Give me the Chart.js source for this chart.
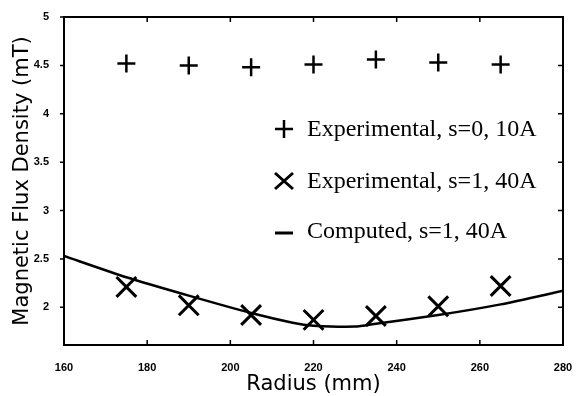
<!DOCTYPE html>
<html>
<head>
<meta charset="utf-8">
<script src="https://cdn.jsdelivr.net/npm/chart.js@4.4.0/dist/chart.umd.min.js"></script>
<style>
  html, body { margin: 0; padding: 0; background: #fff; }
  #wrap { width: 583px; height: 396px; }
</style>
</head>
<body>
<div id="wrap"><canvas id="myChart" width="583" height="396"></canvas></div>
<script>
// measured points (radius in mm, flux in mT)
const radiusExp = [175, 190, 205, 220, 235, 250, 265];
const fluxS0 = [4.52, 4.50, 4.48, 4.51, 4.56, 4.53, 4.51];
const fluxS1 = [2.21, 2.02, 1.92, 1.87, 1.91, 2.01, 2.22];

// computed curve
const radiusCalc = [160, 175, 190, 205, 215, 220, 230, 235, 250, 265, 280];
const fluxCalc = [2.53, 2.31, 2.12, 1.94, 1.84, 1.81, 1.80, 1.83, 1.92, 2.03, 2.17];

const xTicks = [160, 180, 200, 220, 240, 260, 280];
const yTicks = [2, 2.5, 3, 3.5, 4, 4.5, 5];

const legendLabels = ['Experimental, s=0, 10A', 'Experimental, s=1, 40A', 'Computed, s=1, 40A'];

const toPoints = (xs, ys) => xs.map((x, i) => ({ x: x, y: ys[i] }));

// frame with inward ticks + legend inside the plot
const boxAndLegend = {
    id: 'boxAndLegend',
    afterDraw(chart) {
        const ctx = chart.ctx;
        const a = chart.chartArea;
        const xs = chart.scales.x, ys = chart.scales.y;
        ctx.save();
        ctx.strokeStyle = '#000';
        ctx.lineWidth = 2;
        ctx.strokeRect(a.left, a.top, a.right - a.left, a.bottom - a.top);

        ctx.lineWidth = 1.5;
        ctx.beginPath();
        xTicks.forEach(v => {
            const px = xs.getPixelForValue(v);
            ctx.moveTo(px, a.bottom); ctx.lineTo(px, a.bottom - 5);
            ctx.moveTo(px, a.top); ctx.lineTo(px, a.top + 5);
        });
        yTicks.forEach(v => {
            const py = ys.getPixelForValue(v);
            ctx.moveTo(a.left, py); ctx.lineTo(a.left - 4, py);
            ctx.moveTo(a.right, py); ctx.lineTo(a.right - 5, py);
        });
        ctx.stroke();

        const lx = 284, tx = 307, rows = [129, 181, 231];
        // plus
        ctx.lineWidth = 2.5;
        ctx.beginPath();
        ctx.moveTo(lx - 9, rows[0]); ctx.lineTo(lx + 9, rows[0]);
        ctx.moveTo(lx, rows[0] - 9); ctx.lineTo(lx, rows[0] + 9);
        ctx.stroke();
        // cross
        ctx.lineWidth = 3;
        ctx.beginPath();
        ctx.moveTo(lx - 9, rows[1] - 8); ctx.lineTo(lx + 9, rows[1] + 8);
        ctx.moveTo(lx + 9, rows[1] - 8); ctx.lineTo(lx - 9, rows[1] + 8);
        ctx.stroke();
        // dash
        ctx.beginPath();
        ctx.moveTo(lx - 9, rows[2] + 2); ctx.lineTo(lx + 9, rows[2] + 2);
        ctx.stroke();

        ctx.fillStyle = '#000';
        ctx.font = '24px "Liberation Serif", "Times New Roman", serif';
        ctx.textBaseline = 'middle';
        ctx.textAlign = 'left';
        legendLabels.forEach((t, i) => ctx.fillText(t, tx, rows[i] + 1));
        ctx.restore();
    }
};

const tickFont = { family: '"Liberation Sans", Arial, sans-serif', size: 11, weight: 'bold' };
const titleFont = { family: '"DejaVu Sans", sans-serif', size: 21, lineHeight: 1.2 };

new Chart(document.getElementById('myChart'), {
    type: 'scatter',
    data: {
        datasets: [
            {
                label: legendLabels[0],
                data: toPoints(radiusExp, fluxS0),
                pointStyle: 'cross',
                pointRadius: 9,
                pointBorderWidth: 2.5,
                borderColor: '#000',
                backgroundColor: '#000',
                showLine: false
            },
            {
                label: legendLabels[1],
                data: toPoints(radiusExp, fluxS1),
                pointStyle: 'crossRot',
                pointRadius: 14,
                pointBorderWidth: 3,
                borderColor: '#000',
                backgroundColor: '#000',
                showLine: false
            },
            {
                label: legendLabels[2],
                data: toPoints(radiusCalc, fluxCalc),
                showLine: true,
                pointRadius: 0,
                borderColor: '#000',
                borderWidth: 2.5,
                tension: 0.2
            }
        ]
    },
    options: {
        responsive: false,
        animation: false,
        layout: { padding: { left: 0, right: 20, top: 16, bottom: 0 } },
        scales: {
            x: {
                type: 'linear',
                min: 160,
                max: 280,
                afterBuildTicks: s => { s.ticks = xTicks.map(v => ({ value: v })); },
                afterFit: s => { s.height = 51; },
                grid: { display: false },
                border: { display: false },
                ticks: { font: tickFont, color: '#000', padding: 8, maxRotation: 0 },
                title: { display: true, text: 'Radius (mm)', font: titleFont, color: '#000', padding: { top: 0, bottom: -1 } }
            },
            y: {
                type: 'linear',
                min: 1.61,
                max: 5,
                afterBuildTicks: s => { s.ticks = yTicks.map(v => ({ value: v })); },
                afterFit: s => { s.width = 64; },
                grid: { display: false },
                border: { display: false },
                ticks: { font: tickFont, color: '#000', padding: 7, callback: v => String(v) },
                title: { display: true, text: 'Magnetic Flux Density (mT)', font: titleFont, color: '#000', padding: { top: 10, bottom: 0 } }
            }
        },
        plugins: {
            legend: { display: false },
            tooltip: { enabled: false }
        }
    },
    plugins: [boxAndLegend]
});
</script>
</body>
</html>
